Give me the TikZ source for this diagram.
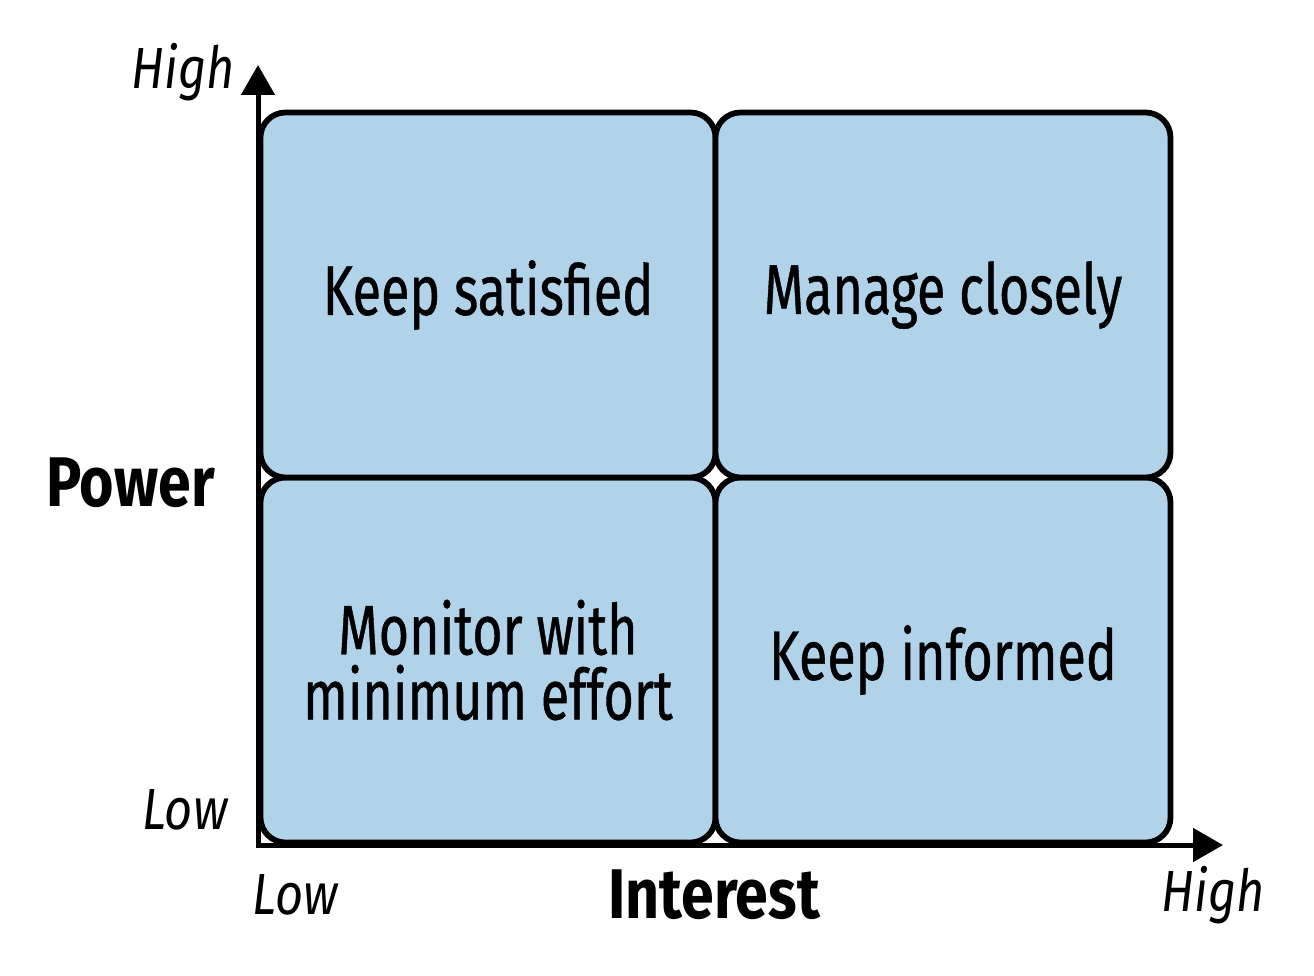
\documentclass[tikz,border=0pt]{standalone}
\usepackage{fontspec}
\setmainfont[FakeStretch=0.84]{Fira Sans}
\newfontfamily\quadfont[FakeStretch=0.74,FakeBold=0.6]{Fira Sans}
\usepackage{xcolor}
\usepackage{tikz}
\usetikzlibrary{positioning, arrows.meta}
\definecolor{quadblue}{RGB}{177,211,234}
\tikzset{
    quad/.style={rectangle, draw=black, line width=0.115cm, fill=quadblue, rounded corners=0.5cm, minimum width=9.1cm, minimum height=7.3cm, outer sep=0pt, inner sep=0pt, align=center, font=\quadfont\fontsize{40}{37}\selectfont},
    axis/.style={{Triangle[length=0.6cm,width=0.66cm]}-{Triangle[length=0.6cm,width=0.66cm]}, line width=0.1cm},
    ends/.style={inner sep=0pt, font=\itshape\fontsize{33}{36}\selectfont},
    title/.style={inner sep=0pt, font=\bfseries\fontsize{40}{44}\selectfont}
}
\begin{document}
\begin{tikzpicture}
        \useasboundingbox (-5.16,-2.6) rectangle (21.12,16.9);
        % Axes
        \coordinate (origin) at (0,0);
        \coordinate (ytip) at (0,15.6);
        \coordinate (xtip) at (19.3,0);
        \draw[axis] (ytip) -- (origin) -- (xtip);

        % Quadrants
        \node[quad, anchor=south west] (BL) at (0.05,0.05) {Monitor with\\minimum effort};
        \node[quad, right=0cm of BL] (BR) {Keep informed};
        \node[quad, above=0cm of BL] (TL) {Keep satisfied};
        \node[quad, above=0cm of BR] (TR) {Manage closely};

        % Labels
        \node[ends, anchor=east] (yhigh) at (-0.46,15.46) {High};
        \node[ends, anchor=east] (ylow) at (-0.6,0.7) {Low};
        \node[title, anchor=east] (power) at (-0.86,7.24) {Power};
        \node[ends, anchor=west] (xlow) at (-0.12,-1.0) {Low};
        \node[title] (interest) at (9.12,-1.0) {Interest};
        \node[ends, anchor=east] (xhigh) at (20.14,-1.0) {High};
    \end{tikzpicture}
\end{document}
